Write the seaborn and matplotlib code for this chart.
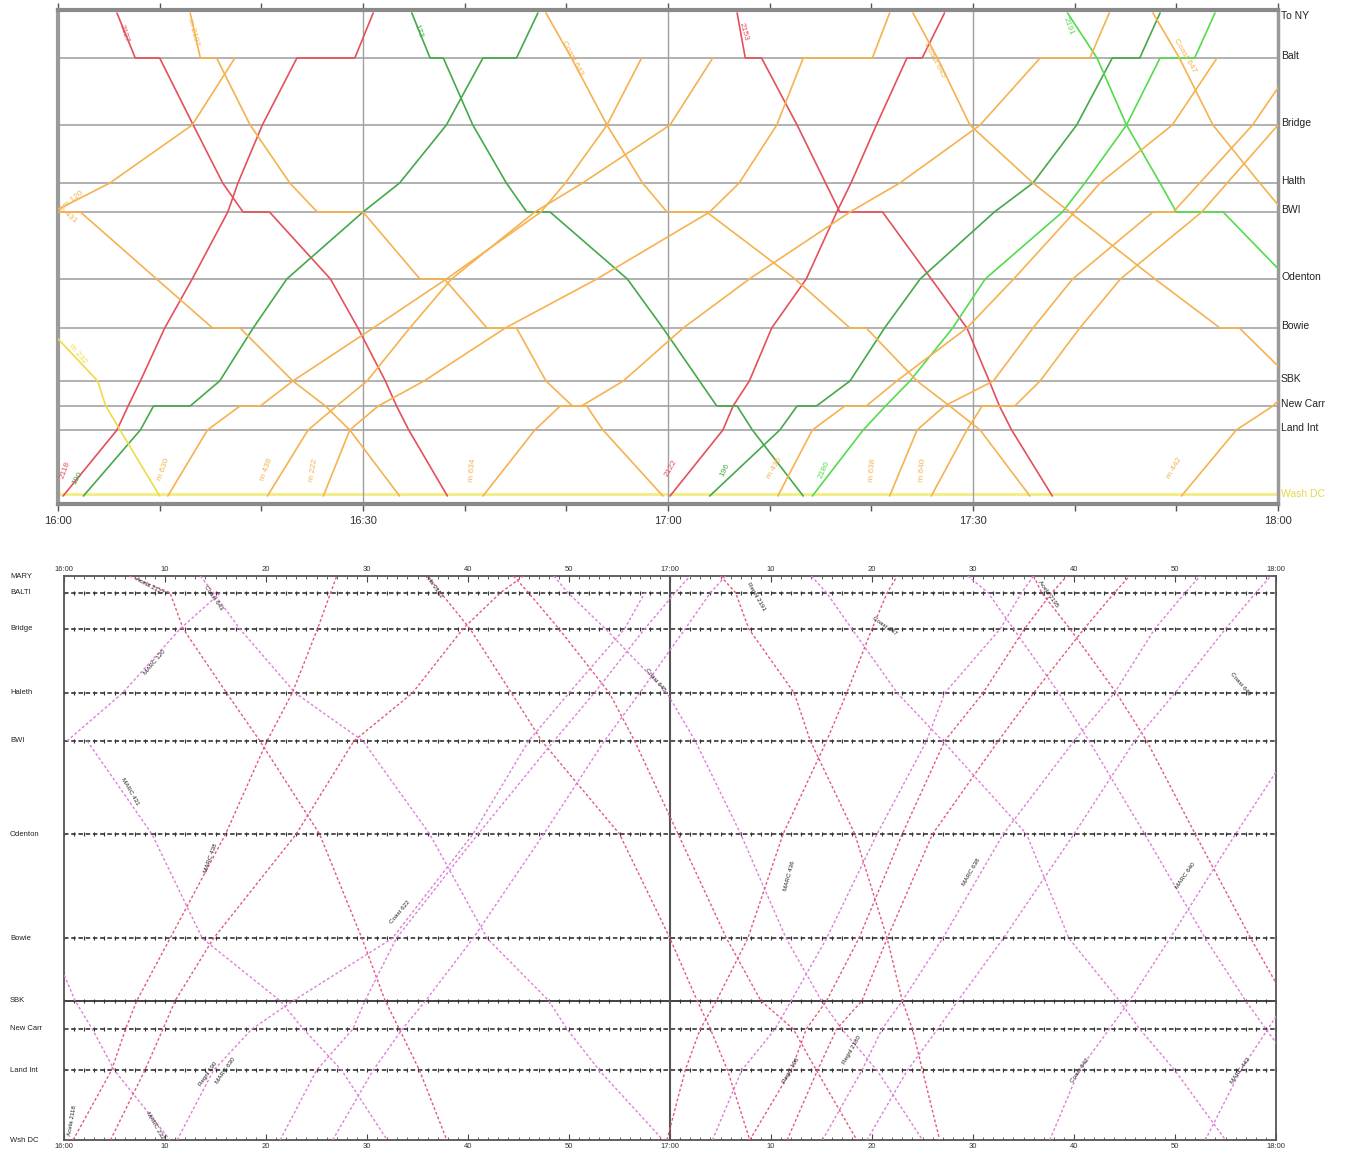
import matplotlib
matplotlib.use("Agg")
import matplotlib.pyplot as plt
import matplotlib.transforms as mtransforms
import seaborn as sns
import pandas as pd
import numpy as np

sns.set_theme(style="white")
plt.rcParams['font.family'] = ['Liberation Sans', 'DejaVu Sans']

# ---------------- upper graph: recorded train movements ----------------
top_stations = ["To NY", "Balt", "Bridge", "Halth", "BWI", "Odenton", "Bowie",
                "SBK", "New Carr", "Land Int", "Wash DC"]
top_station_pos = [48.3, 43.8, 37.1, 31.3, 28.4, 21.7, 16.8, 11.5, 9.0, 6.6, 0.0]
top_tick_minutes = [0, 30, 60, 90, 120]
top_tick_labels = ["16:00", "16:30", "17:00", "17:30", "18:00"]

# minutes after 16:00, station
acela_2127 = [(5.8, "To NY"), (7.6, "Balt"), (10.0, "Balt"), (13.3, "Bridge"), (16.2, "Halth"),
              (18.2, "BWI"), (20.8, "BWI"), (26.8, "Odenton"), (29.5, "Bowie"), (32.2, "SBK"),
              (33.3, "New Carr"), (34.5, "Land Int"), (38.3, "Wash DC")]
acela_2118 = [(0.5, "Wash DC"), (5.8, "Land Int"), (6.9, "New Carr"), (8.1, "SBK"), (10.5, "Bowie"),
              (13.2, "Odenton"), (16.7, "BWI"), (17.7, "Halth"), (20.1, "Bridge"), (23.5, "Balt"),
              (29.2, "Balt"), (31.0, "To NY")]
acela_2153 = [(66.8, "To NY"), (67.6, "Balt"), (69.2, "Balt"), (72.7, "Bridge"), (75.5, "Halth"),
              (76.9, "BWI"), (81.1, "BWI"), (85.9, "Odenton"), (89.4, "Bowie"), (91.6, "SBK"),
              (92.6, "New Carr"), (93.8, "Land Int"), (97.8, "Wash DC")]
acela_2122 = [(60.2, "Wash DC"), (65.4, "Land Int"), (66.4, "New Carr"), (68.0, "SBK"), (70.2, "Bowie"),
              (73.6, "Odenton"), (76.6, "BWI"), (78.0, "Halth"), (80.5, "Bridge"), (83.5, "Balt"),
              (85.0, "Balt"), (87.2, "To NY")]
regional_173 = [(34.8, "To NY"), (36.6, "Balt"), (37.9, "Balt"), (40.8, "Bridge"), (44.1, "Halth"),
                (46.1, "BWI"), (48.4, "BWI"), (56.0, "Odenton"), (59.5, "Bowie"), (63.1, "SBK"),
                (64.8, "New Carr"), (66.8, "New Carr"), (68.3, "Land Int"), (73.3, "Wash DC")]
regional_190 = [(2.5, "Wash DC"), (8.1, "Land Int"), (9.4, "New Carr"), (13.0, "New Carr"), (15.9, "SBK"),
                (19.2, "Bowie"), (22.5, "Odenton"), (30.0, "BWI"), (33.6, "Halth"), (38.2, "Bridge"),
                (41.8, "Balt"), (45.1, "Balt"), (47.2, "To NY")]
regional_196 = [(64.1, "Wash DC"), (71.0, "Land Int"), (72.7, "New Carr"), (74.6, "New Carr"), (77.9, "SBK"),
                (81.3, "Bowie"), (84.8, "Odenton"), (92.1, "BWI"), (95.9, "Halth"), (100.2, "Bridge"),
                (103.7, "Balt"), (106.4, "Balt"), (108.4, "To NY")]
regional_2180 = [(74.2, "Wash DC"), (79.2, "Land Int"), (81.4, "New Carr"), (83.8, "SBK"), (88.0, "Bowie"),
                 (91.2, "Odenton"), (98.8, "BWI"), (101.0, "Halth"), (105.1, "Bridge"), (108.4, "Balt"),
                 (111.8, "Balt"), (113.8, "To NY")]
regional_2191 = [(99.3, "To NY"), (102.2, "Balt"), (105.1, "Bridge"), (108.4, "Halth"), (110.0, "BWI"),
                 (114.6, "BWI"), (121.0, "Odenton")]
marc_2197 = [(13.0, "To NY"), (14.0, "Balt"), (15.6, "Balt"), (18.9, "Bridge"), (22.8, "Halth"),
             (25.5, "BWI"), (30.0, "BWI"), (35.6, "Odenton"), (38.0, "Odenton"), (42.2, "Bowie"),
             (45.1, "Bowie"), (48.0, "SBK"), (50.6, "New Carr"), (52.0, "New Carr"), (53.6, "Land Int"),
             (59.5, "Wash DC")]
marc_431 = [(-1.0, "BWI"), (2.2, "BWI"), (9.7, "Odenton"), (15.2, "Bowie"), (17.9, "Bowie"), (23.1, "SBK"),
            (26.3, "New Carr"), (28.7, "Land Int"), (33.6, "Wash DC")]
marc_232 = [(-1.0, "Bowie"), (3.9, "SBK"), (4.7, "New Carr"), (6.1, "Land Int"), (10.0, "Wash DC")]
coast_643 = [(48.0, "To NY"), (50.5, "Balt"), (54.0, "Bridge"), (57.5, "Halth"), (59.9, "BWI"),
             (63.8, "BWI"), (72.5, "Odenton"), (77.9, "Bowie"), (79.5, "Bowie"), (84.5, "SBK"),
             (87.7, "New Carr"), (90.7, "Land Int"), (95.6, "Wash DC")]
coast_645 = [(84.1, "To NY"), (86.5, "Balt"), (89.7, "Bridge"), (95.9, "Halth"), (99.5, "BWI"),
             (107.9, "Odenton"), (114.3, "Bowie"), (116.2, "Bowie"), (121.5, "SBK")]
coast_647 = [(107.7, "To NY"), (110.3, "Balt"), (113.6, "Bridge"), (118.2, "Halth"), (120.6, "BWI")]
marc_120 = [(-0.5, "BWI"), (5.1, "Halth"), (13.2, "Bridge"), (17.4, "Balt")]
marc_630 = [(10.8, "Wash DC"), (14.7, "Land Int"), (17.9, "New Carr"), (19.9, "New Carr"), (23.1, "SBK"),
            (31.0, "Bowie"), (38.2, "Odenton"), (47.5, "BWI"), (49.9, "Halth"), (54.0, "Bridge"),
            (57.4, "Balt")]
marc_438 = [(20.6, "Wash DC"), (24.6, "Land Int"), (27.4, "New Carr"), (30.4, "SBK"), (34.6, "Bowie"),
            (38.7, "Odenton"), (46.9, "BWI"), (51.6, "Halth"), (60.2, "Bridge"), (64.4, "Balt")]
marc_222 = [(26.1, "Wash DC"), (28.7, "Land Int"), (31.5, "New Carr"), (36.0, "SBK"), (44.0, "Bowie"),
            (53.0, "Odenton"), (64.1, "BWI"), (67.0, "Halth"), (70.7, "Bridge"), (73.3, "Balt"),
            (80.1, "Balt"), (81.8, "To NY")]
marc_634 = [(41.8, "Wash DC"), (46.9, "Land Int"), (49.4, "New Carr"), (51.5, "New Carr"), (55.6, "SBK"),
            (61.5, "Bowie"), (68.0, "Odenton"), (77.9, "BWI"), (82.8, "Halth"), (90.7, "Bridge"),
            (96.6, "Balt"), (101.5, "Balt"), (103.4, "To NY")]
marc_436 = [(70.8, "Wash DC"), (74.2, "Land Int"), (77.4, "New Carr"), (79.5, "New Carr"), (82.5, "SBK"),
            (89.4, "Bowie"), (94.0, "Odenton"), (100.0, "BWI"), (102.5, "Halth"), (109.6, "Bridge"),
            (114.0, "Balt")]
marc_638 = [(81.8, "Wash DC"), (84.5, "Land Int"), (87.2, "New Carr"), (92.0, "SBK"), (95.9, "Bowie"),
            (99.8, "Odenton"), (107.7, "BWI"), (109.7, "BWI"), (112.3, "Halth"), (117.5, "Bridge"),
            (122.0, "Balt")]
marc_640 = [(85.9, "Wash DC"), (89.4, "Land Int"), (90.9, "New Carr"), (94.1, "New Carr"), (96.6, "SBK"),
            (100.5, "Bowie"), (104.5, "Odenton"), (112.5, "BWI"), (115.0, "Halth"), (120.0, "Bridge")]
marc_442 = [(110.5, "Wash DC"), (115.9, "Land Int"), (119.5, "New Carr"), (122.0, "SBK")]

RED, GREEN, LIME, ORANGE, YELLOW = "#e4505a", "#45a84a", "#52dc4c", "#f5b24e", "#eddc45"

top_trains = {
    "2127": (RED, acela_2127), "2118": (RED, acela_2118), "2153": (RED, acela_2153),
    "2122": (RED, acela_2122), "173": (GREEN, regional_173), "190": (GREEN, regional_190),
    "196": (GREEN, regional_196), "2180": (LIME, regional_2180), "2191": (LIME, regional_2191),
    "m 2197": (ORANGE, marc_2197), "m 431": (ORANGE, marc_431), "m 232": (YELLOW, marc_232),
    "Coast 643": (ORANGE, coast_643), "Coast 645": (ORANGE, coast_645), "Coast 647": (ORANGE, coast_647),
    "m 120": (ORANGE, marc_120), "m 630": (ORANGE, marc_630), "m 438": (ORANGE, marc_438),
    "m 222": (ORANGE, marc_222), "m 634": (ORANGE, marc_634), "m 436": (ORANGE, marc_436),
    "m 638": (ORANGE, marc_638), "m 640": (ORANGE, marc_640), "m 442": (ORANGE, marc_442),
}

# label: (minute, position, rotation)
top_labels = {
    "2127": (6.5, 46.3, -72), "m 2197": (13.3, 46.4, -75), "173": (35.4, 46.5, -70),
    "Coast 643": (50.6, 43.8, -62), "2153": (67.4, 46.4, -75), "Coast 645": (86.2, 43.6, -62),
    "2191": (99.4, 47.0, -70), "Coast 647": (110.8, 44.0, -60),
    "m 120": (1.5, 29.6, 38), "m 431": (0.9, 28.2, -40), "m 232": (1.9, 14.2, -50),
    "m 630": (10.4, 2.6, 70), "m 438": (20.5, 2.6, 70), "m 222": (25.1, 2.6, 80),
    "m 634": (40.8, 2.6, 85), "2122": (60.3, 2.8, 60), "196": (65.6, 2.6, 65),
    "m 436": (70.5, 2.8, 60), "2180": (75.4, 2.6, 65), "m 638": (80.1, 2.6, 85),
    "m 640": (85.0, 2.6, 85), "m 442": (109.8, 2.8, 60), "2118": (0.7, 2.6, 70), "190": (1.9, 1.8, 60),
}

# ---------------- lower graph: timetable ----------------
low_stations = ["MARY", "BALTI", "Bridge", "Haleth", "BWI", "Odenton", "Bowie", "SBK",
                "New Carr", "Land Int", "Wsh DC"]
low_station_pos = [47.0, 45.6, 42.6, 37.25, 33.25, 25.5, 16.8, 11.6, 9.25, 5.8, 0.0]
low_tick_minutes = list(range(0, 121, 10))
low_tick_labels = ["16:00", "10", "20", "30", "40", "50", "17:00", "10", "20", "30", "40", "50", "18:00"]

sched_2127 = [(6.5, "MARY"), (10.5, "BALTI"), (11.8, "Bridge"), (16.1, "Haleth"), (19.4, "BWI"),
              (25.3, "Odenton"), (29.5, "Bowie"), (31.8, "SBK"), (33.2, "New Carr"), (35.2, "Land Int"),
              (37.9, "Wsh DC")]
sched_s643 = [(13.5, "MARY"), (14.8, "BALTI"), (17.4, "Bridge"), (22.9, "Haleth"), (29.6, "BWI"),
              (36.2, "Odenton"), (41.9, "Bowie"), (48.0, "SBK"), (49.8, "New Carr"), (53.0, "Land Int"),
              (59.3, "Wsh DC")]
sched_s431 = [(2.3, "BWI"), (8.7, "Odenton"), (13.7, "Bowie"), (21.4, "SBK"), (23.7, "New Carr"),
              (27.5, "Land Int"), (32.0, "Wsh DC")]
sched_s232 = [(-1.5, "Bowie"), (1.1, "SBK"), (2.8, "New Carr"), (5.0, "Land Int"), (10.5, "Wsh DC")]
sched_2153 = [(36.0, "MARY"), (37.3, "BALTI"), (40.2, "Bridge"), (44.3, "Haleth"), (47.3, "BWI"),
              (55.0, "Odenton"), (60.0, "Bowie"), (62.7, "SBK"), (64.0, "New Carr"), (65.7, "Land Int"),
              (67.9, "Wsh DC")]
sched_s645 = [(48.5, "MARY"), (49.9, "BALTI"), (53.6, "Bridge"), (59.7, "Haleth"), (62.5, "BWI"),
              (67.0, "Odenton"), (71.5, "Bowie"), (75.0, "SBK"), (77.0, "New Carr"), (80.5, "Land Int"),
              (85.0, "Wsh DC")]
sched_s173 = [(44.5, "MARY"), (46.0, "BALTI"), (49.0, "Bridge"), (54.0, "Haleth"), (56.5, "BWI"),
              (60.8, "Odenton"), (65.6, "Bowie"), (69.0, "SBK"), (72.2, "New Carr"), (74.5, "Land Int"),
              (78.5, "Wsh DC")]
sched_s2191 = [(65.0, "MARY"), (66.5, "BALTI"), (67.8, "Bridge"), (72.3, "Haleth"), (73.9, "BWI"),
               (78.3, "Odenton"), (81.5, "Bowie"), (83.0, "SBK"), (84.0, "New Carr"), (85.0, "Land Int"),
               (86.7, "Wsh DC")]
sched_s647 = [(74.0, "MARY"), (75.5, "BALTI"), (78.0, "Bridge"), (82.5, "Haleth"), (87.0, "BWI"),
              (95.3, "Odenton"), (99.5, "Bowie"), (104.5, "SBK"), (106.5, "New Carr"), (110.0, "Land Int"),
              (115.0, "Wsh DC")]
sched_s649 = [(89.5, "MARY"), (91.5, "BALTI"), (94.0, "Bridge"), (98.5, "Haleth"), (101.5, "BWI"),
              (107.0, "Odenton"), (113.0, "Bowie"), (117.0, "SBK"), (119.0, "New Carr"), (122.0, "Land Int")]
sched_s2195 = [(96.0, "MARY"), (96.8, "BALTI"), (99.6, "Bridge"), (104.2, "Haleth"), (107.2, "BWI"),
               (112.0, "Odenton"), (117.5, "Bowie"), (121.0, "SBK")]
sched_n120 = [(0.3, "BWI"), (5.8, "Haleth"), (11.5, "Bridge"), (15.5, "BALTI")]
sched_2118 = [(0.9, "Wsh DC"), (4.7, "Land Int"), (6.1, "New Carr"), (7.2, "SBK"), (10.5, "Bowie"),
              (16.0, "Odenton"), (20.1, "BWI"), (22.6, "Haleth"), (25.1, "Bridge"), (26.4, "BALTI"),
              (27.0, "MARY")]
sched_n190 = [(4.6, "Wsh DC"), (8.0, "Land Int"), (9.8, "New Carr"), (11.0, "SBK"), (14.8, "Bowie"),
              (23.0, "Odenton"), (28.7, "BWI"), (34.5, "Haleth"), (39.5, "Bridge"), (43.2, "BALTI"),
              (45.5, "MARY")]
sched_n630 = [(11.2, "Wsh DC"), (14.8, "Land Int"), (18.6, "New Carr"), (22.7, "SBK"), (32.5, "Bowie"),
              (40.5, "Odenton"), (46.0, "BWI"), (50.0, "Haleth"), (55.5, "Bridge"), (57.5, "BALTI")]
sched_n438 = [(21.4, "Wsh DC"), (25.0, "Land Int"), (28.6, "New Carr"), (29.8, "SBK"), (32.9, "Bowie"),
              (41.0, "Odenton"), (48.5, "BWI"), (52.5, "Haleth"), (57.5, "Bridge"), (60.5, "BALTI"),
              (62.0, "MARY")]
sched_n222 = [(26.6, "Wsh DC"), (30.6, "Land Int"), (33.5, "New Carr"), (35.8, "SBK"), (40.5, "Bowie"),
              (47.5, "Odenton"), (53.5, "BWI"), (57.0, "Haleth"), (61.5, "Bridge"), (64.0, "BALTI"),
              (65.5, "MARY")]
sched_2122 = [(59.7, "Wsh DC"), (61.5, "Land Int"), (63.0, "New Carr"), (64.6, "SBK"), (67.7, "Bowie"),
              (71.2, "Odenton"), (75.5, "BWI"), (77.5, "Haleth"), (80.0, "Bridge"), (81.5, "BALTI"),
              (82.5, "MARY")]
sched_n436 = [(64.2, "Wsh DC"), (67.1, "Land Int"), (70.4, "New Carr"), (72.0, "SBK"), (75.5, "Bowie"),
              (80.5, "Odenton"), (85.4, "BWI"), (87.2, "Haleth"), (92.7, "Bridge"), (94.8, "BALTI"),
              (96.0, "MARY")]
sched_n196 = [(67.9, "Wsh DC"), (72.0, "Land Int"), (73.5, "New Carr"), (75.5, "SBK"), (78.7, "Bowie"),
              (83.0, "Odenton"), (87.2, "BWI"), (91.0, "Haleth"), (95.1, "Bridge"), (97.8, "BALTI"),
              (99.3, "MARY")]
sched_n2180 = [(71.6, "Wsh DC"), (74.6, "Land Int"), (76.5, "New Carr"), (79.0, "SBK"), (81.5, "Bowie"),
               (86.0, "Odenton"), (92.5, "BWI"), (96.0, "Haleth"), (101.0, "Bridge"), (104.0, "BALTI"),
               (105.5, "MARY")]
sched_n638 = [(75.1, "Wsh DC"), (79.0, "Land Int"), (81.0, "New Carr"), (83.0, "SBK"), (87.0, "Bowie"),
              (93.0, "Odenton"), (100.0, "BWI"), (104.0, "Haleth"), (108.0, "Bridge"), (111.0, "BALTI"),
              (112.5, "MARY")]
sched_n640 = [(79.5, "Wsh DC"), (83.5, "Land Int"), (86.5, "New Carr"), (88.5, "SBK"), (93.0, "Bowie"),
              (100.0, "Odenton"), (106.0, "BWI"), (110.0, "Haleth"), (115.0, "Bridge"), (118.0, "BALTI"),
              (119.5, "MARY")]
sched_n642 = [(97.6, "Wsh DC"), (100.5, "Land Int"), (103.5, "New Carr"), (105.5, "SBK"), (109.5, "Bowie"),
              (116.0, "Odenton"), (122.0, "BWI")]
sched_n442 = [(113.0, "Wsh DC"), (116.5, "Land Int"), (119.2, "New Carr"), (121.0, "SBK")]

PINK, MAGENTA = "#e4587f", "#e07fd9"
low_trains = {
    "Acela 2127": (PINK, sched_2127), "Coast 643": (MAGENTA, sched_s643), "MARC 431": (MAGENTA, sched_s431),
    "MARC 232": (MAGENTA, sched_s232), "Acela 2153": (PINK, sched_2153), "Coast 645": (MAGENTA, sched_s645),
    "Regnl 173": (PINK, sched_s173), "Regnl 2191": (PINK, sched_s2191), "Coast 647": (MAGENTA, sched_s647),
    "Coast 649": (MAGENTA, sched_s649), "Acela 2195": (PINK, sched_s2195), "MARC 120": (MAGENTA, sched_n120),
    "Acela 2118": (PINK, sched_2118), "Regnl 190": (PINK, sched_n190), "MARC 630": (MAGENTA, sched_n630),
    "MARC 438": (MAGENTA, sched_n438), "Coast 622": (MAGENTA, sched_n222), "Acela 2122": (PINK, sched_2122),
    "MARC 436": (MAGENTA, sched_n436), "Regnl 196": (PINK, sched_n196), "Regnl 2180": (PINK, sched_n2180),
    "MARC 638": (MAGENTA, sched_n638), "MARC 640": (MAGENTA, sched_n640), "Coast 642": (MAGENTA, sched_n642),
    "MARC 442": (MAGENTA, sched_n442),
}
low_labels = {
    "Acela 2127": (8.5, 46.2, -28), "Coast 643": (14.8, 45.2, -55), "MARC 120": (9.0, 39.8, 50),
    "MARC 431": (6.5, 29.0, -60), "MARC 438": (14.5, 23.5, 70), "Coast 622": (33.3, 19.0, 50),
    "MARC 630": (16.0, 5.8, 55), "Regnl 190": (14.3, 5.5, 55), "Coast 645": (58.5, 38.3, -50),
    "MARC 232": (9.0, 1.2, -60), "Acela 2118": (0.8, 1.6, 80), "Acela 2153": (36.5, 46.3, -55),
    "Regnl 2191": (68.5, 45.3, -60), "Coast 647": (81.2, 42.8, -35), "Acela 2195": (97.4, 45.5, -55),
    "Coast 649": (116.5, 38.0, -50), "MARC 436": (71.8, 22.0, 75), "Regnl 2180": (78.0, 7.5, 60),
    "Regnl 196": (72.0, 5.8, 60), "MARC 638": (89.8, 22.3, 60), "Coast 642": (100.6, 5.8, 55),
    "MARC 640": (111.0, 22.0, 55), "MARC 442": (116.5, 5.8, 55),
}


def train_frame(trains, positions):
    rows = []
    for name, (color, path) in trains.items():
        for order, (minute, station) in enumerate(path):
            rows.append({"train": name, "order": order, "minute": minute,
                         "pos": positions[station]})
    return pd.DataFrame(rows)


fig = plt.figure(figsize=(13.47, 11.54), dpi=100)
W, H = 1347.0, 1154.0

# ================= upper graph =================
ax1 = fig.add_axes([58 / W, 1 - 504 / H, 1220 / W, 494 / H])
tpos = dict(zip(top_stations, top_station_pos))
for name, y in zip(top_stations, top_station_pos):
    if name == "Wash DC":
        ax1.axhline(y + 0.2, color="#f3ee8a", lw=2.2, zorder=1)
    elif name != "To NY":
        ax1.axhline(y, color="#ababab", lw=1.3, zorder=1)
for m in (30, 60, 90):
    ax1.axvline(m, color="#a0a0a0", lw=1.0, zorder=1)

df_top = train_frame(top_trains, tpos)
sns.lineplot(data=df_top, x="minute", y="pos", hue="train", units="train", estimator=None,
             sort=False, palette={k: v[0] for k, v in top_trains.items()}, legend=False,
             linewidth=1.2, ax=ax1, zorder=3)

for name, (m, p, rot) in top_labels.items():
    ax1.text(m, p, name, rotation=rot, fontsize=6, color=top_trains[name][0], ha="center",
             va="center", zorder=4, clip_on=True)

ax1.set_xlim(0, 120)
ax1.set_ylim(-0.8, 48.6)
ax1.set_xticks(top_tick_minutes)
ax1.set_xticklabels(top_tick_labels, fontsize=8, color="#333333")
ax1.set_xticks(range(0, 121, 10), minor=True)
ax1.set_yticks([])
ax1.set_xlabel("")
ax1.set_ylabel("")
ax1.tick_params(axis="x", which="both", direction="out", length=5, width=1, color="#555555",
                top=True, bottom=True, pad=4)
for side, lw, col in (("left", 3, "#9a9a9a"), ("bottom", 3, "#8a8a8a"), ("top", 3, "#8a8a8a"),
                      ("right", 2.5, "#9a9a9a")):
    ax1.spines[side].set_visible(True)
    ax1.spines[side].set_linewidth(lw)
    ax1.spines[side].set_color(col)

trans1 = mtransforms.blended_transform_factory(fig.transFigure, ax1.transData)
for name, y in zip(top_stations, top_station_pos):
    col = "#e6d84a" if name == "Wash DC" else "#222222"
    yy = y - 0.3 if name == "To NY" else y + 0.2
    ax1.text(1281 / W, yy, name, transform=trans1, fontsize=7.5, color=col, ha="left", va="center")

# ================= lower graph =================
ax2 = fig.add_axes([64 / W, 1 - 1140 / H, 1212 / W, 564 / H])
lpos = dict(zip(low_stations, low_station_pos))
minute_marks = np.arange(0, 121, 1)
for name, y in zip(low_stations, low_station_pos):
    if name in ("MARY", "Wsh DC"):
        continue
    if name == "SBK":
        ax2.axhline(y, color="#333333", lw=1.3, zorder=1)
    else:
        ax2.axhline(y, color="#444444", lw=1.3, ls=(0, (2.5, 1.5)), zorder=1)
    ax2.plot(minute_marks, np.full(minute_marks.shape, y), ls="none", marker="|", ms=3.5,
             mew=0.8, color="#333333", zorder=1)
ax2.axvline(60, color="#555555", lw=1.5, zorder=1)

df_low = train_frame(low_trains, lpos)
for name, (color, path) in low_trains.items():
    sub = df_low[df_low["train"] == name]
    sns.lineplot(data=sub, x="minute", y="pos", estimator=None, sort=False, color=color,
                 linewidth=1.0, linestyle=(0, (2, 1.6)), ax=ax2, zorder=3)

for name, (m, p, rot) in low_labels.items():
    ax2.text(m, p, name, rotation=rot, fontsize=4.5, color="#222222", ha="center", va="center",
             zorder=4, clip_on=True)

ax2.set_xlim(0, 120)
ax2.set_ylim(0, 47.0)
ax2.set_xticks(low_tick_minutes)
ax2.set_xticklabels(low_tick_labels, fontsize=5.5, color="#333333")
ax2.set_xticks(range(0, 121, 1), minor=True)
ax2.set_yticks([])
ax2.set_xlabel("")
ax2.set_ylabel("")
ax2.tick_params(axis="x", which="major", direction="in", length=4, width=0.8, color="#444444",
                top=True, bottom=True, labeltop=True, labelbottom=True, pad=2)
ax2.tick_params(axis="x", which="minor", direction="in", length=2.5, width=0.6, color="#444444",
                top=True, bottom=True)
for side in ("left", "bottom", "top", "right"):
    ax2.spines[side].set_visible(True)
    ax2.spines[side].set_linewidth(1.3)
    ax2.spines[side].set_color("#555555")

trans2 = mtransforms.blended_transform_factory(fig.transFigure, ax2.transData)
for name, y in zip(low_stations, low_station_pos):
    ax2.text(10 / W, y, name, transform=trans2, fontsize=5.5, color="#222222", ha="left", va="center")

fig.savefig("out.png", dpi=100, facecolor="white")
